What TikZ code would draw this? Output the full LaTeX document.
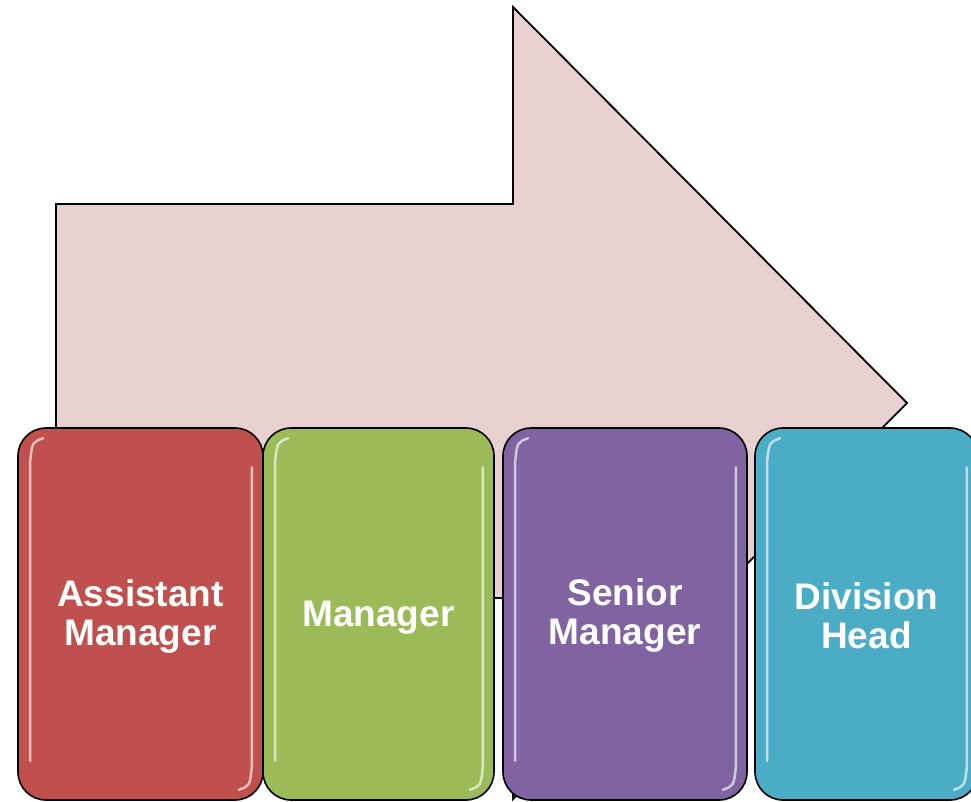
\documentclass[tikz,border=0pt]{standalone}
\usepackage{fontspec}
\setmainfont{Liberation Sans}
\definecolor{arrowfill}{HTML}{E8D0D1}
\definecolor{cred}{HTML}{C0504D}
\definecolor{cgreen}{HTML}{9BBB59}
\definecolor{cpurple}{HTML}{8064A2}
\definecolor{cblue}{HTML}{4BACC6}
\tikzset{
  stagebox/.style={draw=black, line width=1.6pt, rounded corners=28pt, inner sep=0pt,
    minimum height=372pt},
  stagetext/.style={text=white, align=center, inner sep=0pt,
    font=\fontsize{37}{39}\selectfont\bfseries},
  bigarrow/.style={draw=black, line width=1.8pt, fill=arrowfill, line join=miter},
  gloss/.style={line width=2.5pt, line cap=round, opacity=0.85},
}
\newcommand\glossy[2]{%
  \draw[gloss, draw=#2!25!white]
    ([xshift=26pt,yshift=-11pt]#1.north west) .. controls ([xshift=15pt,yshift=-15pt]#1.north west) .. ([xshift=13pt,yshift=-34pt]#1.north west)
    -- ([xshift=13pt,yshift=40pt]#1.south west);
  \draw[gloss, draw=#2!25!white]
    ([xshift=-12pt,yshift=-40pt]#1.north east) -- ([xshift=-12pt,yshift=34pt]#1.south east)
    .. controls ([xshift=-14pt,yshift=15pt]#1.south east) .. ([xshift=-25pt,yshift=11pt]#1.south east);
}
\begin{document}
\begin{tikzpicture}[x=1pt,y=-1pt]
\clip (0,0) rectangle (971,801);
\draw[bigarrow] (56,204) -- (513,204) -- (513,7) -- (907,403) -- (513,799) -- (513,598) -- (56,598) -- cycle;
\node[stagebox, fill=cred, minimum width=245pt] (am) at (140.5,614) {};
\node[stagebox, fill=cgreen, minimum width=231pt] (mg) at (378.5,614) {};
\node[stagebox, fill=cpurple, minimum width=244pt] (sm) at (625,614) {};
\node[stagebox, fill=cblue, minimum width=223pt] (dh) at (866.5,614) {};
\glossy{am}{cred}
\glossy{mg}{cgreen}
\glossy{sm}{cpurple}
\glossy{dh}{cblue}
\node[stagetext] (amt) at ([yshift=-3pt]am.center) {Assistant\\Manager};
\node[stagetext] (mgt) at ([yshift=-4pt]mg.center) {Manager};
\node[stagetext] (smt) at ([yshift=-2pt]sm.center) {Senior\\Manager};
\node[stagetext] (dht) at ([yshift=-2pt]dh.center) {Division\\Head};
\end{tikzpicture}
\end{document}
